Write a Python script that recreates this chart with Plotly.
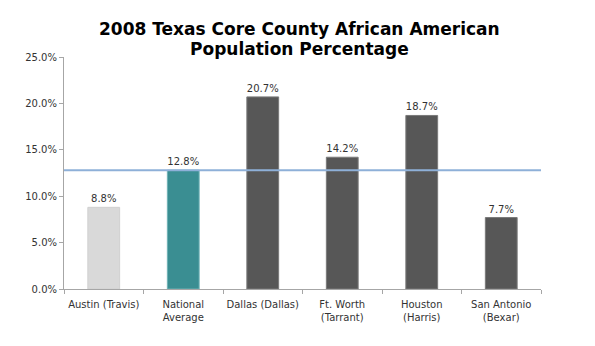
import plotly.graph_objects as go

# County / benchmark categories and their African American population share (%)
categories = ["Austin (Travis)", "National<br>Average", "Dallas (Dallas)",
              "Ft. Worth<br>(Tarrant)", "Houston<br>(Harris)", "San Antonio<br>(Bexar)"]
values = [8.8, 12.8, 20.7, 14.2, 18.7, 7.7]
national_average = 12.8
bar_colors = ["#D9D9D9", "#3A8E92", "#575757", "#575757", "#575757", "#575757"]
line_colors = ["#D0D0D0", "#6FB2B5", "#7A7A7A", "#7A7A7A", "#7A7A7A", "#7A7A7A"]
y_ticks = [0, 5, 10, 15, 20, 25]
title_lines = ["2008 Texas Core County African American", "Population Percentage"]

fig = go.Figure()
fig.add_trace(go.Bar(
    x=categories, y=values,
    marker=dict(color=bar_colors, line=dict(color=line_colors, width=1)),
    text=[f"{v:.1f}%" for v in values],
    textposition="outside",
    textfont=dict(family="DejaVu Sans", size=10, color="#333333"),
    cliponaxis=False,
    hoverinfo="skip",
))

# National average reference line across the plot
fig.add_shape(type="line", xref="paper", x0=0, x1=1, yref="y",
              y0=national_average, y1=national_average,
              line=dict(color="#8EB0D8", width=2), layer="above")

# Two-line bold title
for line, ypos in zip(title_lines, [1.121, 1.036]):
    fig.add_annotation(text=f"<b>{line}</b>", xref="paper", yref="paper",
                       x=0.493, y=ypos, xanchor="center", yanchor="middle",
                       showarrow=False,
                       font=dict(family="DejaVu Sans", size=17, color="#000000"))

fig.update_layout(
    width=595, height=346,
    margin=dict(l=64, r=54, t=57, b=57),
    paper_bgcolor="white", plot_bgcolor="white",
    showlegend=False,
    bargap=0.6,
    font=dict(family="DejaVu Sans", size=10, color="#333333"),
    xaxis=dict(showline=True, linecolor="#A6A6A6", linewidth=1,
               ticks="outside", tickson="boundaries", ticklen=4, tickcolor="#A6A6A6",
               tickangle=0, automargin=False, ticklabelstandoff=6,
               tickfont=dict(family="DejaVu Sans", size=10, color="#333333"),
               showgrid=False, fixedrange=True),
    yaxis=dict(range=[0, 25], tickvals=y_ticks,
               ticktext=[f"{t:.1f}%" for t in y_ticks],
               showline=True, linecolor="#A6A6A6", linewidth=1,
               ticks="outside", ticklen=4, tickcolor="#A6A6A6",
               automargin=False,
               tickfont=dict(family="DejaVu Sans", size=10, color="#333333"),
               showgrid=False, zeroline=False, fixedrange=True),
)

fig.write_html("out.html")
